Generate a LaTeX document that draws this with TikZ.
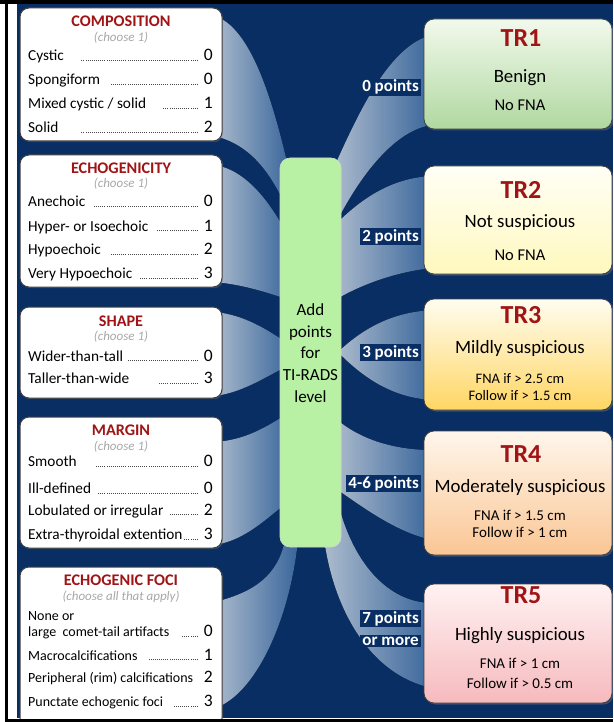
\documentclass[tikz,border=0pt]{standalone}
\usepackage{fontspec}
\setmainfont{Carlito}
\usetikzlibrary{shadows}
\definecolor{bgblue}{RGB}{8,46,100}
\definecolor{fanL}{RGB}{195,212,232}
\definecolor{fanR}{RGB}{66,116,176}
\definecolor{titred}{RGB}{160,20,22}
\definecolor{choosegrey}{RGB}{168,168,168}
\definecolor{boxline}{RGB}{64,64,64}
\definecolor{leadgrey}{RGB}{70,70,70}
\definecolor{addgreen}{RGB}{184,240,164}
\definecolor{tronetop}{RGB}{242,249,236}
\definecolor{tronebot}{RGB}{176,216,160}
\definecolor{trtwotop}{RGB}{255,255,246}
\definecolor{trtwobot}{RGB}{255,248,190}
\definecolor{trthreetop}{RGB}{255,253,240}
\definecolor{trthreebot}{RGB}{255,214,100}
\definecolor{trfourtop}{RGB}{255,246,236}
\definecolor{trfourbot}{RGB}{250,198,148}
\definecolor{trfivetop}{RGB}{255,242,242}
\definecolor{trfivebot}{RGB}{246,186,190}
\newcommand\dotlead{\leaders\hbox to 2.1pt{\hss\textcolor{leadgrey}{\rule{0.75pt}{0.75pt}}\hss}\hfill}
\newcommand\numf[1]{{\fontsize{17.5}{17.5}\selectfont #1}}
\newcommand\rowd[5]{\node[rowtxt] (#1) at (28,#2) {\makebox[184.5pt][l]{#3\hspace{#5pt}\dotlead\hspace{5pt}\numf{#4}}};}
\begin{document}
\begin{tikzpicture}[x=1pt,y=-1pt,
  leftbox/.style={draw=boxline, line width=1pt, fill=white, rounded corners=9pt,
    drop shadow={opacity=0.35,shadow xshift=1.2pt,shadow yshift=-1.2pt}, inner sep=0pt, minimum width=202pt},
  rightbox/.style={draw=boxline, line width=0.8pt, rounded corners=10pt,
    drop shadow={opacity=0.4,shadow xshift=1.5pt,shadow yshift=-1.5pt}, inner sep=0pt, minimum width=188pt},
  ttl/.style={anchor=base, inner sep=0pt, text=titred, font=\fontsize{16.2}{16}\selectfont\bfseries},
  choose/.style={anchor=base, inner sep=0pt, text=choosegrey, font=\fontsize{13}{13}\selectfont\itshape},
  rowtxt/.style={anchor=base west, inner sep=0pt, font=\fontsize{15.3}{15}\selectfont},
  trttl/.style={anchor=base, inner sep=0pt, text=titred, font=\fontsize{26}{26}\selectfont\bfseries},
  trsub/.style={anchor=base, inner sep=0pt, font=\fontsize{18.8}{18.8}\selectfont},
  trsm/.style={anchor=base, inner sep=0pt, font=\fontsize{15}{15}\selectfont},
  pts/.style={anchor=base east, fill=bgblue, text=white, inner xsep=2pt, inner ysep=1.5pt, font=\fontsize{17}{17}\selectfont\bfseries},
  fan/.style={left color=fanL, right color=fanR, fill opacity=0.88},
  addtxt/.style={anchor=base, inner sep=0pt, font=\fontsize{17}{17}\selectfont}
]
\useasboundingbox (0,0) rectangle (613,722);
\begin{scope}
\clip (0,0) rectangle (613,722);
% frame and background
\fill[white] (0,0) rectangle (613,722);
\fill[bgblue] (17,4) rectangle (613,718);
% left fans
\fill[fan] (215,16) .. controls (250,28) and (272,95) .. (290,175) -- (290,215) .. controls (270,170) and (250,145) .. (215,136) -- cycle;
\fill[fan] (215,165) .. controls (245,170) and (270,200) .. (290,240) -- (290,300) .. controls (265,292) and (245,285) .. (215,282) -- cycle;
\fill[fan] (215,312) .. controls (245,315) and (268,330) .. (290,345) -- (290,365) .. controls (268,375) and (245,392) .. (215,396) -- cycle;
\fill[fan] (215,442) .. controls (245,440) and (265,428) .. (290,412) -- (290,500) .. controls (265,520) and (245,540) .. (215,545) -- cycle;
\fill[fan] (215,602) .. controls (255,592) and (278,575) .. (285,540) -- (298,540) .. controls (290,620) and (255,695) .. (215,708) -- cycle;
% right fans
\fill[fan] (335,165) .. controls (360,110) and (390,45) .. (432,35) -- (432,125) .. controls (395,130) and (360,175) .. (335,225) -- cycle;
\fill[fan] (335,225) .. controls (360,200) and (390,178) .. (432,176) -- (432,268) .. controls (395,272) and (360,285) .. (335,300) -- cycle;
\fill[fan] (338,352) .. controls (370,322) and (400,312) .. (432,310) -- (432,400) .. controls (400,398) and (370,385) .. (338,352) -- cycle;
\fill[fan] (335,418) .. controls (360,440) and (395,450) .. (432,450) -- (432,540) .. controls (395,532) and (360,505) .. (335,488) -- cycle;
\fill[fan] (335,490) .. controls (350,565) and (390,603) .. (432,603) -- (432,688) .. controls (370,675) and (335,610) .. (325,545) -- cycle;

% left boxes
\node[leftbox, minimum height=133pt] (comp) at (121,74.5) {};
\node[leftbox, minimum height=132pt] (echo) at (121,221) {};
\node[leftbox, minimum height=91pt] (shape) at (121,352.5) {};
\node[leftbox, minimum height=131pt] (margin) at (121,482.5) {};
\node[leftbox, minimum height=160pt] (foci) at (121,647) {};

% composition
\node[ttl] (compT) at (121,27) {COMPOSITION};
\node[choose] (compC) at (121,42) {(choose 1)};
\rowd{c1}{60.5}{Cystic}{0}{16}
\rowd{c2}{85}{Spongiform}{0}{10}
\rowd{c3}{109}{Mixed cystic / solid}{1}{15}
\rowd{c4}{132.5}{Solid}{2}{22}
% echogenicity
\node[ttl] (echoT) at (121,173.3) {ECHOGENICITY};
\node[choose] (echoC) at (121,187.3) {(choose 1)};
\rowd{e1}{206.7}{Anechoic}{0}{8}
\rowd{e2}{231}{Hyper- or Isoechoic}{1}{8}
\rowd{e3}{254.3}{Hypoechoic}{2}{8}
\rowd{e4}{278.7}{Very Hypoechoic}{3}{6}
% shape
\node[ttl] (shapeT) at (121,326.7) {SHAPE};
\node[choose] (shapeC) at (121,340.7) {(choose 1)};
\rowd{s1}{361}{Wider-than-tall}{0}{3}
\rowd{s2}{383.3}{Taller-than-wide}{3}{27}
% margin
\node[ttl] (marginT) at (121,435) {MARGIN};
\node[choose] (marginC) at (121,450) {(choose 1)};
\rowd{m1}{466.7}{Smooth}{0}{18}
\rowd{m2}{493.3}{Ill-defined}{0}{6}
\rowd{m3}{515}{Lobulated or irregular}{2}{4}
\rowd{m4}{539.3}{Extra-thyroidal extention}{3}{1}
% echogenic foci
\node[ttl] (fociT) at (121,585) {ECHOGENIC FOCI};
\node[choose] (fociC) at (121,600) {(choose all that apply)};
\node[rowtxt] (f1a) at (28,620.7) {\fontsize{14}{14}\selectfont None or};
\rowd{f1}{636.7}{{\fontsize{14}{14}\selectfont large\ \ comet-tail artifacts}}{0}{12}
\rowd{f2}{660}{{\fontsize{14}{14}\selectfont Macrocalcifications}}{1}{10}
\node[rowtxt] (f3) at (28,682.3) {\makebox[184.5pt][l]{{\fontsize{14}{14}\selectfont Peripheral (rim) calcifications}\hfill\numf{2}}};
\rowd{f4}{706.7}{{\fontsize{14}{14}\selectfont Punctate echogenic foci}}{3}{9}

% center box
\node[draw=addgreen!70!black!40, line width=0.6pt, fill=addgreen, rounded corners=10pt, minimum width=61pt, minimum height=389pt, inner sep=0pt] (add) at (310.5,352.5) {};
\node[addtxt] (a1) at (310.5,315) {Add};
\node[addtxt] (a2) at (310.5,337) {points};
\node[addtxt] (a3) at (310.5,358.5) {for};
\node[addtxt] (a4) at (310.5,380) {TI-RADS};
\node[addtxt] (a5) at (310.5,402) {level};

% right boxes
\node[rightbox, top color=tronetop, bottom color=tronebot, minimum height=110pt] (tr1) at (518,74) {};
\node[rightbox, top color=trtwotop, bottom color=trtwobot, minimum height=108pt] (tr2) at (518,220) {};
\node[rightbox, top color=trthreetop, bottom color=trthreebot, minimum height=111pt] (tr3) at (518,354.5) {};
\node[rightbox, top color=trfourtop, bottom color=trfourbot, minimum height=124pt] (tr4) at (518,493) {};
\node[rightbox, top color=trfivetop, bottom color=trfivebot, minimum height=119pt] (tr5) at (518,643.5) {};

\node[trttl] (tr1T) at (521,47) {TR1};
\node[trsub] (tr1a) at (520,83) {Benign};
\node[trsm,font=\fontsize{16.5}{16.5}\selectfont] (tr1b) at (520,111) {No FNA};

\node[trttl] (tr2T) at (521,198) {TR2};
\node[trsub] (tr2a) at (520,227) {Not suspicious};
\node[trsm,font=\fontsize{16.5}{16.5}\selectfont] (tr2b) at (520,260) {No FNA};

\node[trttl] (tr3T) at (521,323) {TR3};
\node[trsub] (tr3a) at (520,353) {Mildly suspicious};
\node[trsm,font=\fontsize{14.5}{14.5}\selectfont] (tr3b) at (520,383) {FNA if > 2.5 cm};
\node[trsm,font=\fontsize{14.5}{14.5}\selectfont] (tr3c) at (520,400) {Follow if > 1.5 cm};

\node[trttl] (tr4T) at (521,462) {TR4};
\node[trsub] (tr4a) at (520,492) {Moderately suspicious};
\node[trsm] (tr4b) at (520,520) {FNA if > 1.5 cm};
\node[trsm] (tr4c) at (520,537) {Follow if > 1 cm};

\node[trttl] (tr5T) at (521,603) {TR5};
\node[trsub] (tr5a) at (520,640) {Highly suspicious};
\node[trsm] (tr5b) at (520,668) {FNA if > 1 cm};
\node[trsm] (tr5c) at (520,688) {Follow if > 0.5 cm};

% point labels
\node[pts] (p0) at (421,92) {0 points};
\node[pts] (p2) at (421,241) {2 points};
\node[pts] (p3) at (421,357) {3 points};
\node[pts] (p46) at (421,488) {4-6 points};
\node[pts] (p7a) at (421,623) {7 points};
\node[pts] (p7b) at (421,645) {or more};

% frame lines
\fill[black] (0,0) rectangle (613,4);
\fill[black] (5,0) rectangle (7.5,722);
\fill[black] (5,718.5) rectangle (613,722);
\end{scope}
\end{tikzpicture}
\end{document}
